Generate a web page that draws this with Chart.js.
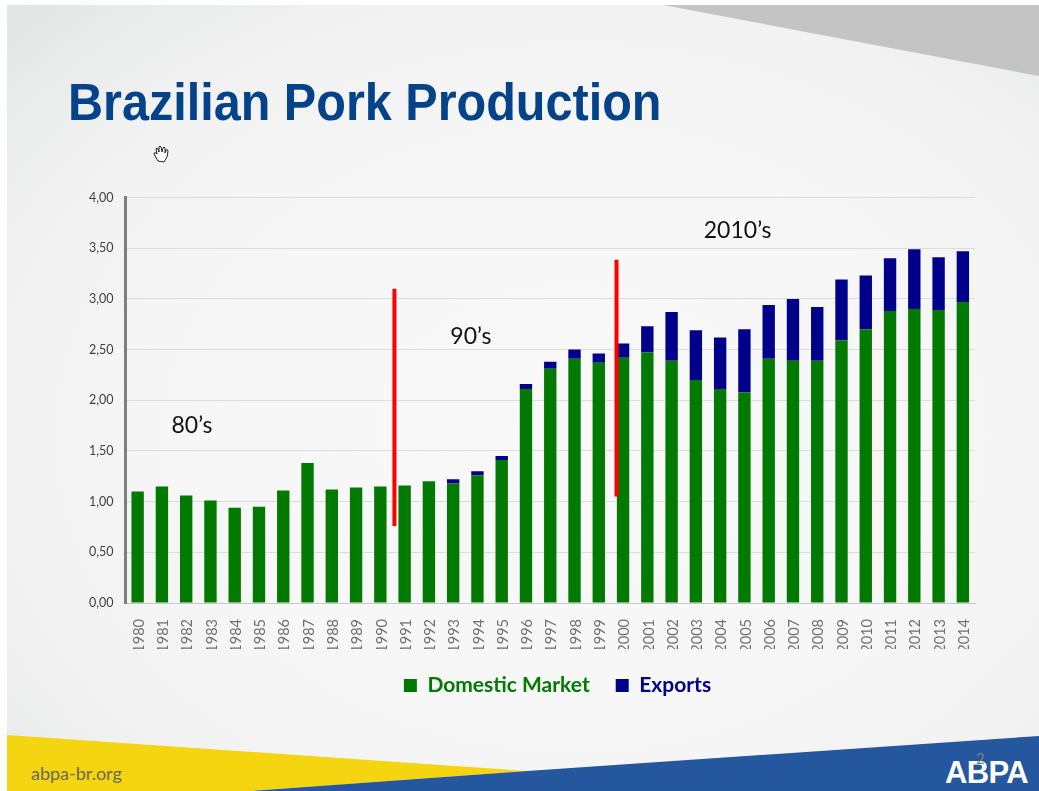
<!DOCTYPE html>
<html><head><meta charset="utf-8">
<style>
html,body{margin:0;padding:0;background:#fff;width:1039px;height:791px;overflow:hidden}
#slide{position:absolute;left:7px;top:5px;width:1032px;height:786px;background:radial-gradient(ellipse at 55% 55%,#f8f8f8 0%,#f7f7f7 45%,#f1f1f1 75%,#e3e5e5 100%)}
svg{position:absolute;left:0;top:0}
canvas{position:absolute;left:0;top:0}
.t{position:absolute;white-space:nowrap}
</style></head><body>
<div id="slide"></div>
<svg width="1039" height="791">
<polygon points="663,5 1039,76 1039,5" fill="#c4c4c4"/>
<polygon points="7,735 527,771 252,791 7,791" fill="#f5d410"/>
<polygon points="252,791 527,771 1039,736 1039,791" fill="#24579e"/>
<g transform="translate(153,145)" fill="#fff" stroke="#222" stroke-width="1" stroke-linejoin="round">
<path d="M5 16 L1 9 Q1 7 3 8 L4 9 L3 4 Q4 2 5 4 L6 7 L6 2 Q7 0 8 2 L9 7 L10 3 Q11 1 12 3 L12 8 L13 5 Q15 4 15 6 L14 12 L11 17 Z"/>
</g>
</svg>
<div class="t" style="left:68px;top:73px;font:bold 51px 'Liberation Sans';color:#04438a;transform:scaleX(0.952);transform-origin:left top">Brazilian Pork Production</div>
<div class="t" style="left:31px;top:762px;font:18px Lato;color:#6b6b55">abpa-br.org</div>
<div class="t" style="left:945px;top:755px;font:900 31px 'Liberation Sans';color:#fff;letter-spacing:-0.6px">ABPA</div>
<div class="t" style="left:976px;top:749px;font:15px Lato;color:#7f7f7f">2</div>
<canvas id="c" width="1039" height="791"></canvas>
<script src="https://cdn.jsdelivr.net/npm/chart.js@4/dist/chart.umd.min.js"></script>
<script>
const years=['1980','1981','1982','1983','1984','1985','1986','1987','1988','1989','1990','1991','1992','1993','1994','1995','1996','1997','1998','1999','2000','2001','2002','2003','2004','2005','2006','2007','2008','2009','2010','2011','2012','2013','2014'];
const domestic=[1.10,1.15,1.06,1.01,0.94,0.95,1.11,1.38,1.12,1.14,1.15,1.16,1.20,1.18,1.26,1.41,2.11,2.31,2.41,2.37,2.42,2.47,2.39,2.20,2.11,2.08,2.41,2.39,2.39,2.59,2.70,2.88,2.90,2.89,2.97];
const exportsData=[0,0,0,0,0,0,0,0,0,0,0,0,0,0.04,0.04,0.04,0.05,0.07,0.09,0.09,0.14,0.26,0.48,0.49,0.51,0.62,0.53,0.61,0.53,0.60,0.53,0.52,0.59,0.52,0.50];
const dividerX=[10.58,19.73];
const dividerFrom=[0.76,1.05];
const dividerTo=[3.10,3.385];
const eraLabels=["80’s","90’s","2010’s"];
const eraX=[2.24,13.73,24.72];
const eraY=[1.75,2.63,3.676];
const annot={id:'annot',
 afterLayout(ch){const l=ch.legend;l.left+=70;l.right+=70;},
 afterDatasetsDraw(ch){
  const g=ch.ctx,x=ch.scales.x,y=ch.scales.y;
  g.save();g.strokeStyle='#ff0000';g.lineWidth=4;
  dividerX.forEach((v,i)=>{g.beginPath();g.moveTo(x.getPixelForValue(v),y.getPixelForValue(dividerFrom[i]));g.lineTo(x.getPixelForValue(v),y.getPixelForValue(dividerTo[i]));g.stroke();});
  g.fillStyle='#111';g.font='23px Lato';g.textAlign='center';g.textBaseline='middle';
  eraLabels.forEach((s,i)=>g.fillText(s,x.getPixelForValue(eraX[i]),y.getPixelForValue(eraY[i])));
  g.restore();
 }};
new Chart(document.getElementById('c'),{type:'bar',
 data:{labels:years,datasets:[
  {label:'Domestic Market',data:domestic,backgroundColor:'#027a02'},
  {label:'Exports',data:exportsData,backgroundColor:'#00008b'}]},
 plugins:[annot],
 options:{responsive:false,animation:false,
  layout:{padding:{top:197.5,right:64,bottom:85,left:0}},
  datasets:{bar:{categoryPercentage:1,barPercentage:0.51}},
  plugins:{tooltip:{enabled:false},title:{display:false},
   legend:{position:'bottom',labels:{boxWidth:13,boxHeight:13,padding:26,font:{family:'Lato',size:21,weight:'bold'},
    generateLabels(ch){return ch.data.datasets.map((d,i)=>({text:d.label,fillStyle:d.backgroundColor,strokeStyle:d.backgroundColor,lineWidth:0,fontColor:d.backgroundColor,datasetIndex:i}));}}}},
  scales:{
   x:{stacked:true,grid:{display:false},border:{color:'#c8c8c8',width:1},
    afterFit(s){s.height=46;},
    ticks:{minRotation:90,maxRotation:90,padding:8,labelOffset:1.5,autoSkip:false,color:'#6f6f6f',font:{family:'Lato',size:14.5}}},
   y:{stacked:true,min:0,max:4,afterFit(s){s.width=125.5;},
    grid:{color:'#dcdcdc',lineWidth:1,drawTicks:false},border:{color:'#7f7f7f',width:3},
    ticks:{stepSize:0.5,padding:12,color:'#404040',font:{family:'Lato',size:12.5},callback:v=>v.toFixed(2).replace('.',',')}}
  }}});
</script>
</body></html>
